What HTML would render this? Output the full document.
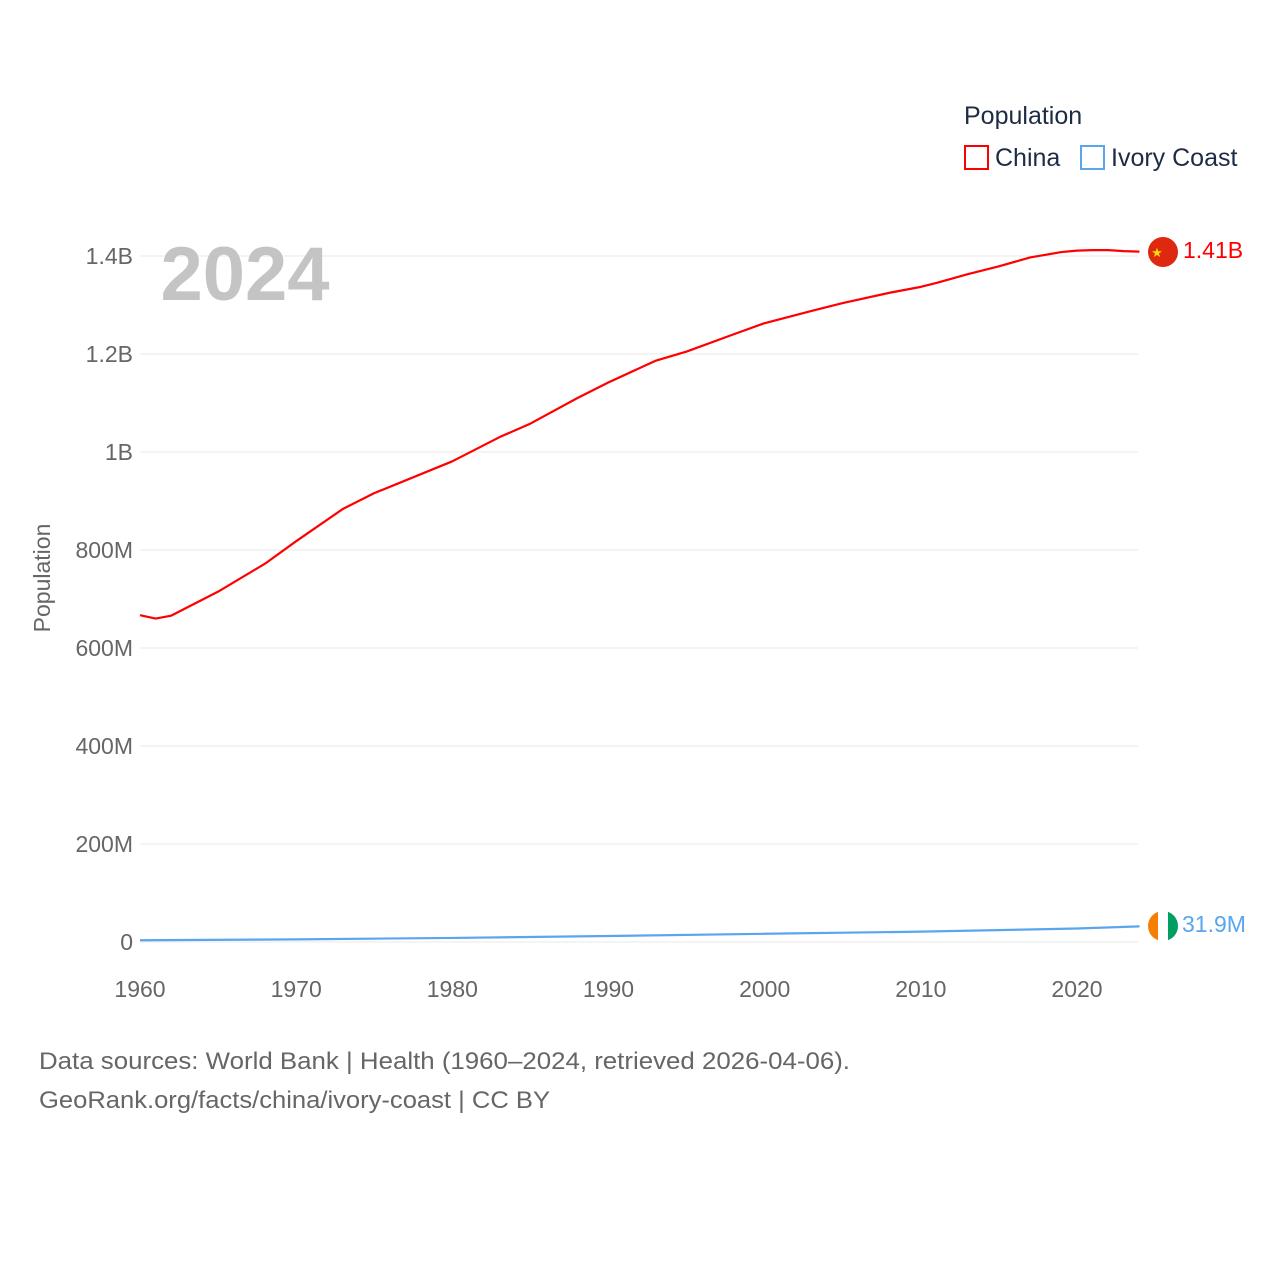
<!DOCTYPE html>
<html><head><meta charset="utf-8"><style>
body{margin:0;background:#fff;font-family:"Liberation Sans",sans-serif;}
svg text{font-family:"Liberation Sans",sans-serif;}
</style></head><body>
<svg id="chart" width="1280" height="1280" viewBox="0 0 1280 1280">
<g id="grid"></g>
<g id="yticks"></g>
<g id="xticks"></g>
<text x="245" y="300" font-size="76" font-weight="bold" fill="#c4c4c4" text-anchor="middle">2024</text>
<text transform="translate(50,578) rotate(-90)" font-size="23" fill="#666" text-anchor="middle">Population</text>
<g id="series"></g>
<text x="964" y="124" font-size="25" fill="#1d2b44">Population</text>
<g><rect x="965" y="146" width="23" height="23" fill="none" stroke="#f00" stroke-width="2"/><text x="995" y="166" font-size="25" fill="#1d2b44">China</text></g>
<g><rect x="1081" y="146" width="23" height="23" fill="none" stroke="#5aa6ee" stroke-width="2"/><text x="1111" y="166" font-size="25" fill="#1d2b44">Ivory Coast</text></g>
<g><circle cx="1163" cy="252" r="15" fill="#de2910"/><text x="1157" y="257" font-size="13" fill="#ffde00" text-anchor="middle">★</text></g>
<g><clipPath id="cc"><circle cx="1163" cy="926" r="15"/></clipPath><g clip-path="url(#cc)"><rect x="1148" y="911" width="10" height="30" fill="#f77f00"/><rect x="1158" y="911" width="10" height="30" fill="#fff"/><rect x="1168" y="911" width="10" height="30" fill="#009e60"/></g></g>
<text x="1183" y="258" font-size="23" fill="#f00">1.41B</text>
<text x="1182" y="932" font-size="23" fill="#5aa6ee">31.9M</text>
<text x="39" y="1069" font-size="24" fill="#666" textLength="811" lengthAdjust="spacingAndGlyphs">Data sources: World Bank | Health (1960–2024, retrieved 2026-04-06).</text>
<text x="39" y="1108" font-size="24" fill="#666" textLength="511" lengthAdjust="spacingAndGlyphs">GeoRank.org/facts/china/ivory-coast | CC BY</text>
</svg>
<script>
const years=[1960,1961,1962,1965,1968,1970,1973,1975,1980,1983,1985,1988,1990,1993,1995,1998,2000,2003,2005,2008,2010,2011,2013,2015,2017,2019,2020,2021,2022,2023,2024];
const china=[667,660,666,715,772,818,884,916,981,1030,1058,1110,1142,1186,1205,1240,1263,1288,1304,1325,1337,1345,1363,1379,1397,1408,1411,1412,1412,1410,1409];
const ivoryYears=[1960,1970,1980,1990,2000,2010,2020,2024];
const ivory=[3.5,5.4,8.3,12.2,16.8,21.1,27.5,31.9];
const yTicks=[0,200,400,600,800,1000,1200,1400];
const yTickLabels=["0","200M","400M","600M","800M","1B","1.2B","1.4B"];
const xTicks=[1960,1970,1980,1990,2000,2010,2020];
const NS="http://www.w3.org/2000/svg";
const X=y=>140+(y-1960)*(937/60);
const Y=v=>942-v*(686/1400);
function mk(tag,attrs,parent){const e=document.createElementNS(NS,tag);for(const k in attrs)e.setAttribute(k,attrs[k]);parent.appendChild(e);return e;}
const grid=document.getElementById('grid'),yt=document.getElementById('yticks'),xt=document.getElementById('xticks'),sg=document.getElementById('series');
yTicks.forEach((t,i)=>{
 const l=mk('line',{x1:140,x2:1138,y1:Y(t),y2:Y(t),stroke:'#e8e8e8','stroke-width':1},grid);
 
 
 const tx=mk('text',{x:133,y:Y(t)+8,'font-size':23,fill:'#666','text-anchor':'end'},yt);
 tx.textContent=yTickLabels[i];
 
 
});
xTicks.forEach(t=>{
 const tx=mk('text',{x:X(t),y:997,'font-size':23,fill:'#666','text-anchor':'middle'},xt);
 tx.textContent=t;
 
 
});
const pc=mk('path',{d:years.map((y,i)=>(i?'L':'M')+X(y)+','+Y(china[i])).join(''),fill:'none',stroke:'#f00','stroke-width':2.2,'stroke-linejoin':'round'},sg);


const pi=mk('path',{d:ivoryYears.map((y,i)=>(i?'L':'M')+X(y)+','+Y(ivory[i])).join(''),fill:'none',stroke:'#5aa6ee','stroke-width':2.2},sg);


</script>
</body></html>
